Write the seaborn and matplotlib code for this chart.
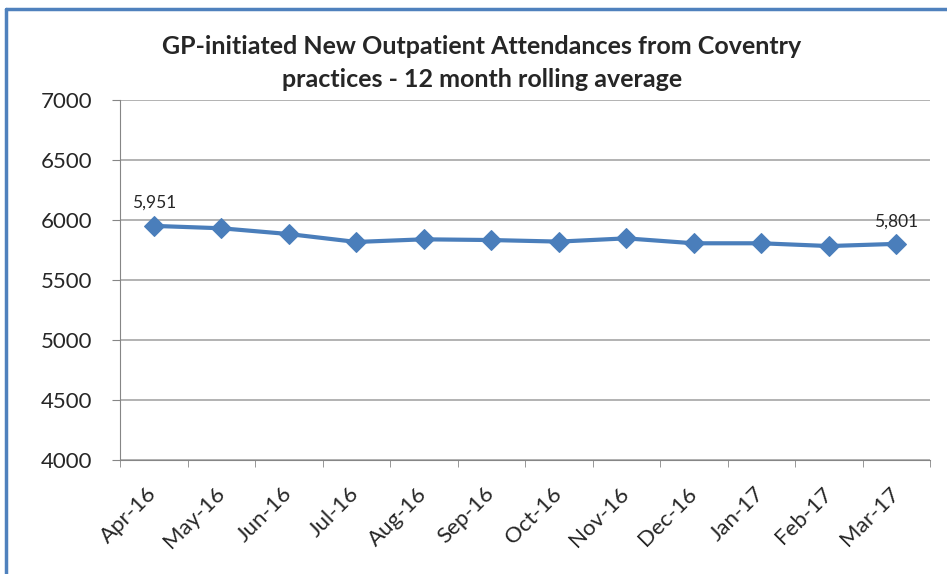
import matplotlib
matplotlib.use("Agg")
import matplotlib.pyplot as plt
import seaborn as sns
import pandas as pd
from matplotlib.lines import Line2D

months = ["Apr-16", "May-16", "Jun-16", "Jul-16", "Aug-16", "Sep-16",
          "Oct-16", "Nov-16", "Dec-16", "Jan-17", "Feb-17", "Mar-17"]
values = [5951, 5931, 5883, 5817, 5839, 5833, 5820, 5847, 5806, 5806, 5783, 5801]
yticks = [4000, 4500, 5000, 5500, 6000, 6500, 7000]
title = "GP-initiated New Outpatient Attendances from Coventry\npractices - 12 month rolling average"

sns.set_style("white")
plt.rcParams['font.family'] = ['Lato', 'DejaVu Sans']

df = pd.DataFrame({"month": months, "value": values})
df["x"] = range(len(months))

fig = plt.figure(figsize=(9.47, 5.74), dpi=100)
ax = fig.add_axes([120/947, 1 - 460/574, (930-120)/947, 360/574])

color = "#4A7EBB"
sns.lineplot(data=df, x="x", y="value", ax=ax, color=color, linewidth=3,
             marker="D", markersize=10, markeredgecolor=color, markerfacecolor=color)

ax.set_xlim(-0.5, len(months) - 0.5)
ax.set_ylim(4000, 7000)
ax.set_yticks(yticks)
ax.set_yticklabels([str(v) for v in yticks], fontsize=16)
ax.set_xticks(df["x"])
ax.set_xticklabels(months, rotation=45, ha="right", va="center",
                   rotation_mode="anchor", fontsize=16)
ax.tick_params(axis="x", length=0, pad=22)
ax.tick_params(axis="y", length=6, color="#868686", direction="out", left=True, pad=14)
# minor ticks at category boundaries
ax.set_xticks([i - 0.5 for i in range(len(months) + 1)], minor=True)
ax.tick_params(axis="x", which="minor", length=5, color="#868686", direction="out", bottom=True)

ax.grid(axis="y", color="#A6A6A6", linewidth=1.2)
ax.set_axisbelow(True)
for s in ["top", "right"]:
    ax.spines[s].set_visible(False)
ax.spines["left"].set_color("#868686")
ax.spines["bottom"].set_color("#868686")
ax.set_xlabel("")
ax.set_ylabel("")

ax.annotate(f"{values[0]:,}", (0, values[0]), xytext=(0, 11), textcoords="offset points",
            ha="center", va="bottom", fontsize=12.5)
ax.annotate(f"{values[-1]:,}", (len(values) - 1, values[-1]), xytext=(0, 10), textcoords="offset points",
            ha="center", va="bottom", fontsize=12.5)

fig.text(482/947, 1 - 63/574, title, ha="center", va="center", fontsize=18,
         fontweight="bold", linespacing=1.5)

# blue border on top and left
fig.add_artist(Line2D([6/947, 1], [1 - 9/574, 1 - 9/574], color="#4F81BD", linewidth=2.5,
                      transform=fig.transFigure))
fig.add_artist(Line2D([6/947, 6/947], [0, 1 - 9/574], color="#4F81BD", linewidth=2.5,
                      transform=fig.transFigure))

fig.savefig("out.png", dpi=100)
